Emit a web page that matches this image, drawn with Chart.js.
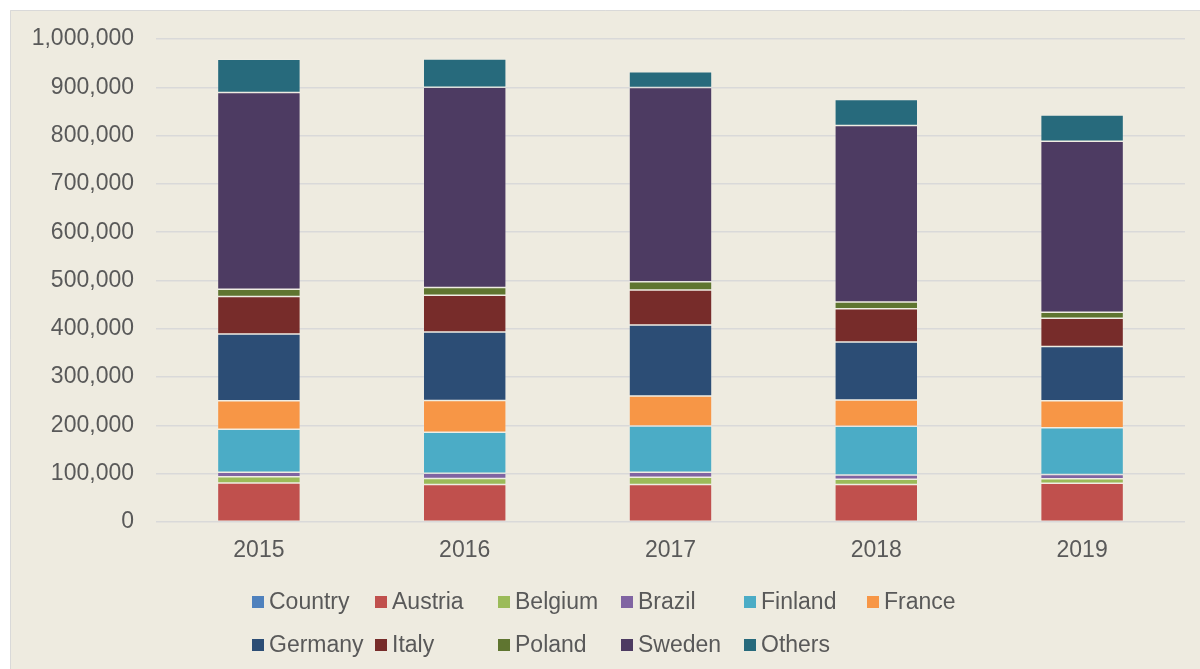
<!DOCTYPE html>
<html>
<head>
<meta charset="utf-8">
<script src="https://cdn.jsdelivr.net/npm/chart.js@4.4.1/dist/chart.umd.min.js"></script>
<style>
  html, body { margin: 0; padding: 0; background: #ffffff; }
  #wrap { width: 1200px; height: 669px; position: relative; }
</style>
</head>
<body>
<div id="wrap"><canvas id="c" width="1200" height="669"></canvas></div>
<script>
const categories = ['2015', '2016', '2017', '2018', '2019'];
const seriesNames = ['Country', 'Austria', 'Belgium', 'Brazil', 'Finland', 'France', 'Germany', 'Italy', 'Poland', 'Sweden', 'Others'];
const seriesColors = ['#4F81BD', '#C0504D', '#9BBB59', '#8064A2', '#4BACC6', '#F79646', '#2C4D75', '#772C2A', '#5F7530', '#4D3B62', '#276A7C'];
const country = [null, null, null, null, null];
const austria = [81000, 77500, 77500, 77500, 80000];
const belgium = [12500, 12500, 15000, 11000, 9500];
const brazil  = [9500, 11000, 10500, 9000, 9000];
const finland = [89000, 85000, 96000, 100500, 96500];
const france  = [59000, 65500, 62000, 54500, 56000];
const germany = [138000, 142000, 147000, 120000, 112500];
const italy   = [78000, 76000, 72500, 69000, 58500];
const poland  = [15000, 16000, 17000, 14000, 12500];
const sweden  = [407000, 414500, 402000, 365500, 354000];
const others  = [69000, 58500, 32500, 54000, 54000];
const yTicks = [0, 100000, 200000, 300000, 400000, 500000, 600000, 700000, 800000, 900000, 1000000];

const seriesValues = [country, austria, belgium, brazil, finland, france, germany, italy, poland, sweden, others];
const FONT = '"Liberation Sans", Arial, sans-serif';
const TXT = '#595959';

const datasets = seriesNames.map((name, i) => ({
  label: name,
  data: seriesValues[i],
  backgroundColor: seriesColors[i],
  borderColor: 'rgba(255,255,255,0.22)',
  borderWidth: 0.75,
  borderSkipped: false,
  barPercentage: 0.403,
  categoryPercentage: 1.0
}));

const bgPlugin = {
  id: 'bg',
  beforeDraw(chart) {
    const ctx = chart.ctx;
    ctx.save();
    ctx.fillStyle = '#ffffff';
    ctx.fillRect(0, 0, chart.width, chart.height);
    ctx.fillStyle = '#EEEBE0';
    ctx.fillRect(10, 10, chart.width - 10, chart.height - 10);
    ctx.strokeStyle = '#D9D9D9';
    ctx.lineWidth = 1;
    ctx.beginPath();
    ctx.moveTo(10.5, chart.height);
    ctx.lineTo(10.5, 10.5);
    ctx.lineTo(chart.width, 10.5);
    ctx.stroke();
    ctx.restore();
  }
};

const legendPlugin = {
  id: 'gridLegend',
  afterDraw(chart) {
    const ctx = chart.ctx;
    ctx.save();
    ctx.font = '23px ' + FONT;
    ctx.textBaseline = 'middle';
    ctx.textAlign = 'left';
    const cols = 6, x0 = 252, colW = 123, rows = [602, 645], box = 12;
    chart.data.datasets.forEach((ds, i) => {
      const r = Math.floor(i / cols), c = i % cols;
      const x = x0 + c * colW, y = rows[r];
      ctx.fillStyle = ds.backgroundColor;
      ctx.fillRect(x, y - box / 2, box, box);
      ctx.fillStyle = TXT;
      ctx.fillText(ds.label, x + 17, y + 1);
    });
    ctx.restore();
  }
};

new Chart(document.getElementById('c'), {
  type: 'bar',
  data: { labels: categories, datasets },
  plugins: [bgPlugin, legendPlugin],
  options: {
    responsive: false,
    animation: false,
    layout: { padding: { top: 39, right: 15, bottom: 0, left: 0 } },
    plugins: { legend: { display: false }, tooltip: { enabled: false } },
    scales: {
      x: {
        stacked: true,
        grid: { display: false, drawTicks: false },
        border: { display: false },
        ticks: { color: TXT, font: { family: FONT, size: 23 }, padding: 15 },
        afterFit(s) { s.height = 147; }
      },
      y: {
        stacked: true,
        min: 0,
        max: 1000000,
        afterBuildTicks(s) { s.ticks = yTicks.map(v => ({ value: v })); },
        grid: { color: '#D9D9D9', lineWidth: 1.5, drawTicks: false },
        border: { display: false },
        ticks: {
          color: TXT,
          font: { family: FONT, size: 23 },
          padding: 22,
          callback: v => Number(v).toLocaleString('en-US')
        },
        afterFit(s) { s.width = 156; }
      }
    }
  }
});
</script>
</body>
</html>
